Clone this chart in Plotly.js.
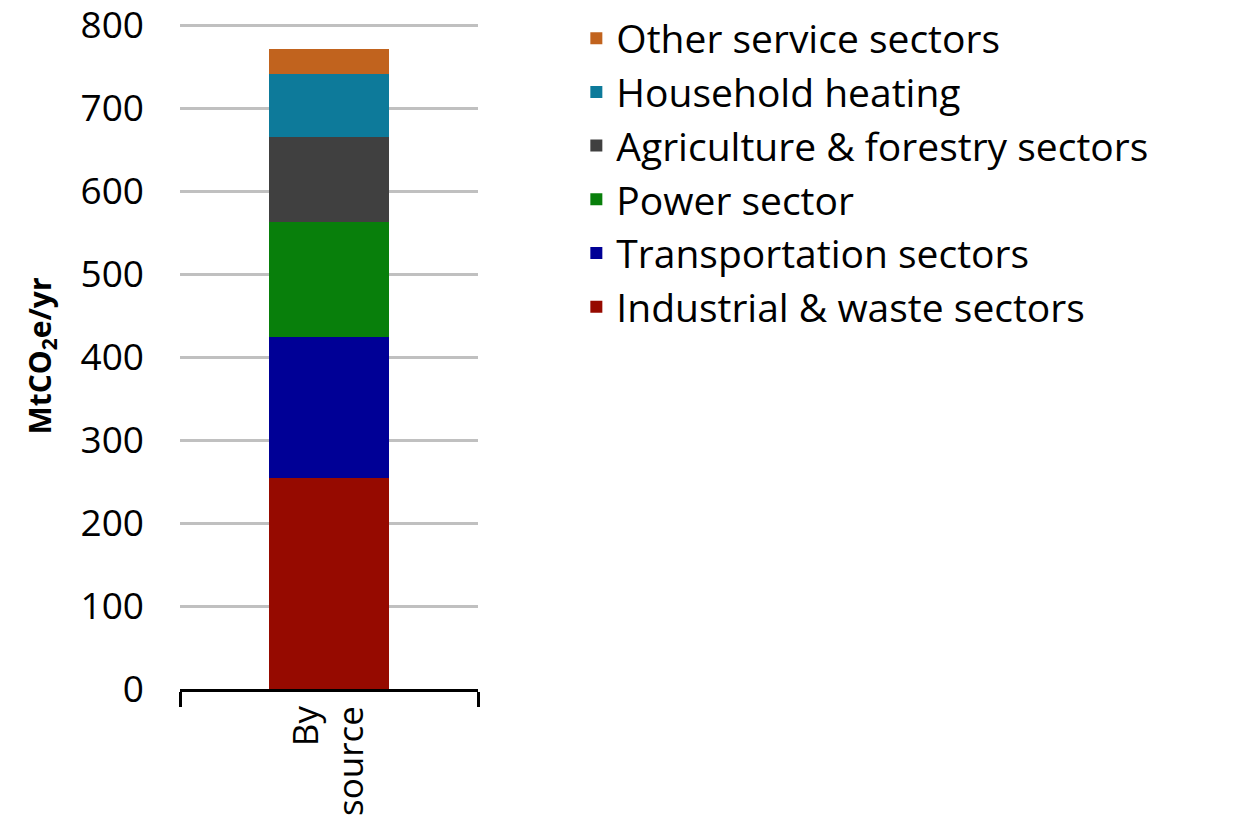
<!DOCTYPE html>
<html>
<head>
<meta charset="utf-8">
<script src="https://cdn.plot.ly/plotly-3.0.1.min.js"></script>
<style>html,body{margin:0;padding:0;background:#fff;}#chart{width:1238px;height:832px;}</style>
</head>
<body>
<div id="chart"></div>
<script>
const categories = ["By<br>source"];
const seriesNames = ["Industrial & waste sectors","Transportation sectors","Power sector","Agriculture & forestry sectors","Household heating","Other service sectors"];
const industrial = [255];
const transportation = [169];
const power = [139];
const agriculture = [102];
const household = [76];
const otherService = [31];
const seriesValues = [industrial, transportation, power, agriculture, household, otherService];
const colors = ["#960A00","#000096","#087F0B","#404040","#0D7A9A","#C1631E"];
const yTicks = [0,100,200,300,400,500,600,700,800];

const traces = seriesNames.map((name, i) => ({
  type: "bar",
  name: name,
  x: categories,
  y: seriesValues[i],
  marker: {color: colors[i], line: {width: 0}},
  width: 0.4
}));

const font = "Open Sans, Lato, sans-serif";
const layout = {
  width: 1238, height: 832,
  margin: {l: 180, r: 760, t: 23, b: 143, autoexpand: false},
  barmode: "stack",
  showlegend: true,
  paper_bgcolor: "#fff", plot_bgcolor: "#fff",
  font: {family: font, color: "#000", size: 34},
  legend: {
    x: 1.33, xanchor: "left", y: 1.025, yanchor: "top",
    traceorder: "reversed",
    font: {family: font, size: 39, color: "#000"},
    itemwidth: 30, tracegroupgap: 0
  },
  xaxis: {
    type: "category", range: [-0.5, 0.5],
    showline: true, linecolor: "#000", linewidth: 3,
    ticks: "outside", tickson: "boundaries", ticklen: 15, tickwidth: 3, tickcolor: "#000",
    tickangle: -90, tickfont: {size: 35, family: font}, ticklabeloverflow: "allow",
    showgrid: false, zeroline: false, fixedrange: true, automargin: false
  },
  yaxis: {
    range: [0, 803], tickvals: yTicks, ticktext: yTicks.map(String),
    showgrid: true, gridcolor: "#c0c0c0", gridwidth: 3,
    zeroline: false, showline: false, ticks: "",
    ticklabelstandoff: 35, automargin: false, ticklabeloverflow: "allow",
    tickfont: {size: 37, family: font},
    title: {text: "<b>MtCO<sub>2</sub>e/yr</b>", font: {size: 30, family: font}, standoff: 20}
  }
};
Plotly.newPlot("chart", traces, layout, {displayModeBar: false, staticPlot: true});
</script>
</body>
</html>
